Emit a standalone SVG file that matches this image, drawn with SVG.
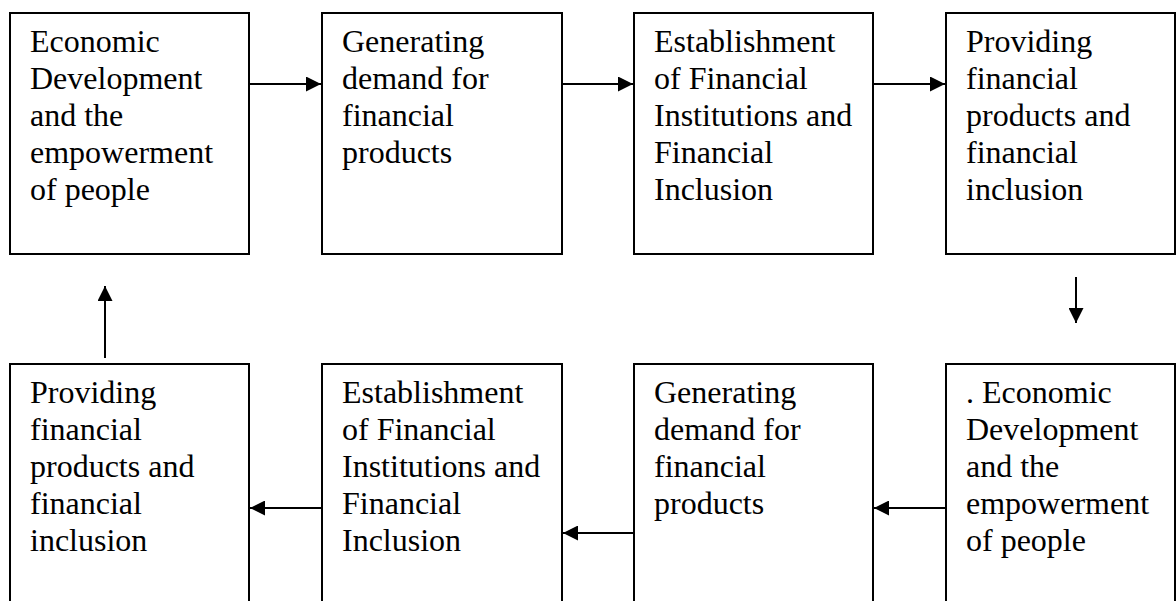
<svg xmlns="http://www.w3.org/2000/svg" width="1176" height="601" viewBox="0 0 1176 601">
  <style>
    .box { fill: #ffffff; stroke: #000000; stroke-width: 2; }
    .lbl { font-family: "Liberation Serif", "Times New Roman", serif; font-size: 32px; fill: #000000; }
    .conn { stroke: #000000; stroke-width: 2; fill: none; }
  </style>
  <defs>
    <marker id="head" viewBox="0 0 15 15" refX="15" refY="7.5" markerWidth="15" markerHeight="15" markerUnits="userSpaceOnUse" orient="auto">
      <path d="M0,0 L15,7.5 L0,15 Z" fill="#000000"/>
    </marker>
  </defs>
  <rect width="1176" height="601" fill="#ffffff"/>

  <!-- top row -->
  <g id="node-top-1">
    <rect class="box" x="10" y="13" width="239" height="241"/>
    <text class="lbl" x="30" y="52">
      <tspan x="30">Economic</tspan>
      <tspan x="30" dy="37">Development</tspan>
      <tspan x="30" dy="37">and the</tspan>
      <tspan x="30" dy="37">empowerment</tspan>
      <tspan x="30" dy="37">of people</tspan>
    </text>
  </g>
  <g id="node-top-2">
    <rect class="box" x="322" y="13" width="240" height="241"/>
    <text class="lbl" x="342" y="52">
      <tspan x="342">Generating</tspan>
      <tspan x="342" dy="37">demand for</tspan>
      <tspan x="342" dy="37">financial</tspan>
      <tspan x="342" dy="37">products</tspan>
    </text>
  </g>
  <g id="node-top-3">
    <rect class="box" x="634" y="13" width="239" height="241"/>
    <text class="lbl" x="654" y="52">
      <tspan x="654">Establishment</tspan>
      <tspan x="654" dy="37">of Financial</tspan>
      <tspan x="654" dy="37">Institutions and</tspan>
      <tspan x="654" dy="37">Financial</tspan>
      <tspan x="654" dy="37">Inclusion</tspan>
    </text>
  </g>
  <g id="node-top-4">
    <rect class="box" x="946" y="13" width="229" height="241"/>
    <text class="lbl" x="966" y="52">
      <tspan x="966">Providing</tspan>
      <tspan x="966" dy="37">financial</tspan>
      <tspan x="966" dy="37">products and</tspan>
      <tspan x="966" dy="37">financial</tspan>
      <tspan x="966" dy="37">inclusion</tspan>
    </text>
  </g>

  <!-- bottom row (runs past the lower edge) -->
  <g id="node-bottom-1">
    <rect class="box" x="10" y="364" width="239" height="260"/>
    <text class="lbl" x="30" y="403">
      <tspan x="30">Providing</tspan>
      <tspan x="30" dy="37">financial</tspan>
      <tspan x="30" dy="37">products and</tspan>
      <tspan x="30" dy="37">financial</tspan>
      <tspan x="30" dy="37">inclusion</tspan>
    </text>
  </g>
  <g id="node-bottom-2">
    <rect class="box" x="322" y="364" width="240" height="260"/>
    <text class="lbl" x="342" y="403">
      <tspan x="342">Establishment</tspan>
      <tspan x="342" dy="37">of Financial</tspan>
      <tspan x="342" dy="37">Institutions and</tspan>
      <tspan x="342" dy="37">Financial</tspan>
      <tspan x="342" dy="37">Inclusion</tspan>
    </text>
  </g>
  <g id="node-bottom-3">
    <rect class="box" x="634" y="364" width="239" height="260"/>
    <text class="lbl" x="654" y="403">
      <tspan x="654">Generating</tspan>
      <tspan x="654" dy="37">demand for</tspan>
      <tspan x="654" dy="37">financial</tspan>
      <tspan x="654" dy="37">products</tspan>
    </text>
  </g>
  <g id="node-bottom-4">
    <rect class="box" x="946" y="364" width="229" height="260"/>
    <text class="lbl" x="966" y="403">
      <tspan x="966">. Economic</tspan>
      <tspan x="966" dy="37">Development</tspan>
      <tspan x="966" dy="37">and the</tspan>
      <tspan x="966" dy="37">empowerment</tspan>
      <tspan x="966" dy="37">of people</tspan>
    </text>
  </g>

  <!-- connectors -->
  <g id="connectors">
    <line class="conn" x1="249" y1="84" x2="321" y2="84" marker-end="url(#head)"/>
    <line class="conn" x1="562" y1="84" x2="633" y2="84" marker-end="url(#head)"/>
    <line class="conn" x1="873" y1="84" x2="945" y2="84" marker-end="url(#head)"/>
    <line class="conn" x1="1076" y1="277" x2="1076" y2="323" marker-end="url(#head)"/>
    <line class="conn" x1="946" y1="508" x2="874" y2="508" marker-end="url(#head)"/>
    <line class="conn" x1="634" y1="533" x2="563" y2="533" marker-end="url(#head)"/>
    <line class="conn" x1="322" y1="508" x2="250" y2="508" marker-end="url(#head)"/>
    <line class="conn" x1="105" y1="358" x2="105" y2="286" marker-end="url(#head)"/>
  </g>
</svg>
